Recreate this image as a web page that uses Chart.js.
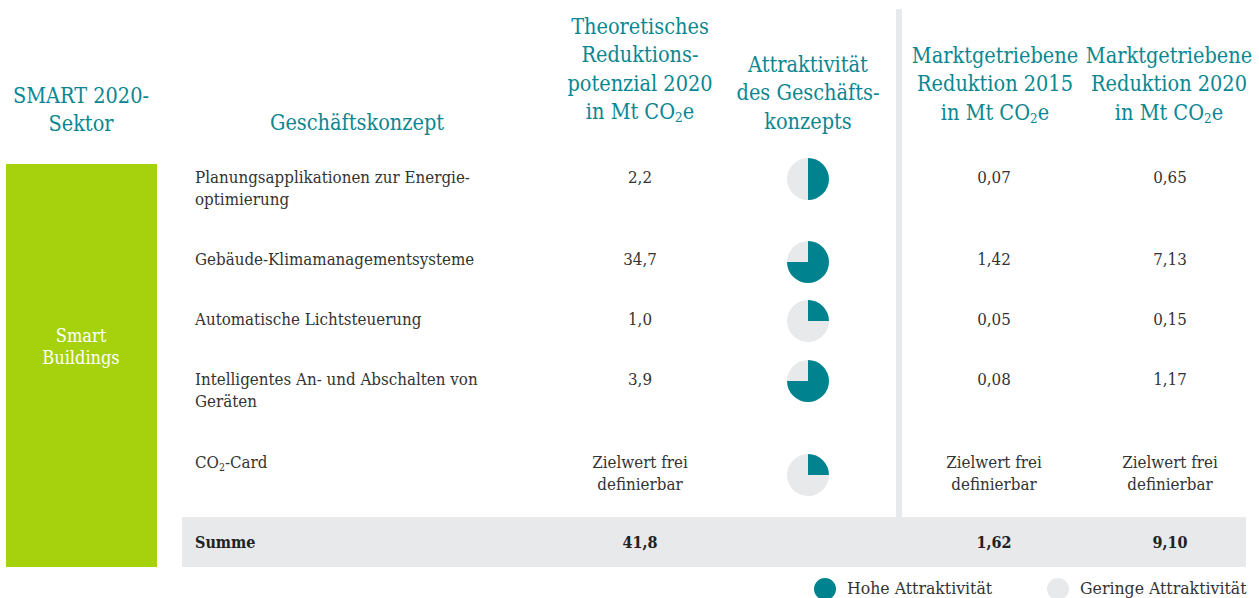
<!DOCTYPE html>
<html>
<head>
<meta charset="utf-8">
<script src="https://cdn.jsdelivr.net/npm/chart.js@4.4.1/dist/chart.umd.min.js"></script>
<style>
  html,body{margin:0;padding:0;background:#fff;}
  #stage{position:relative;width:1259px;height:598px;overflow:hidden;font-family:"DejaVu Serif Condensed","DejaVu Serif",serif;}
  .t{position:absolute;white-space:nowrap;}
  .hd{color:#0a8792;font-size:21.5px;line-height:28.5px;text-align:center;transform:translateX(-50%);}
  .bd{color:#333;font-size:16.8px;line-height:22px;}
  .c{text-align:center;transform:translateX(-50%);}
  sub{font-size:0.62em;vertical-align:-0.25em;line-height:0;}
  .pie{position:absolute;width:42px;height:42px;}
</style>
</head>
<body>
<div id="stage"></div>
<script>
// ---- data ----
const sector = "Smart Buildings";
const headers = {
  sector: "SMART 2020-<br>Sektor",
  concept: "Geschäftskonzept",
  potential: "Theoretisches<br>Reduktions-<br>potenzial 2020<br>in Mt CO<sub>2</sub>e",
  attract: "Attraktivität<br>des Geschäfts-<br>konzepts",
  m2015: "Marktgetriebene<br>Reduktion 2015<br>in Mt CO<sub>2</sub>e",
  m2020: "Marktgetriebene<br>Reduktion 2020<br>in Mt CO<sub>2</sub>e"
};
const concepts = [
  "Planungsapplikationen zur Energie-<br>optimierung",
  "Gebäude-Klimamanagementsysteme",
  "Automatische Lichtsteuerung",
  "Intelligentes An- und Abschalten von<br>Geräten",
  "CO<sub>2</sub>-Card"
];
const potential2020 = [2.2, 34.7, 1.0, 3.9, null];
const attractiveness = [2, 3, 1, 3, 1];   // quarters of 4 (high attractiveness share)
const attractMax = 4;
const market2015 = [0.07, 1.42, 0.05, 0.08, null];
const market2020 = [0.65, 7.13, 0.15, 1.17, null];
const sumLabel = "Summe";
const sumPotential = 41.8, sum2015 = 1.62, sum2020 = 9.10;
const openTarget = "Zielwert frei<br>definierbar";
const legendLabels = ["Hohe Attraktivität", "Geringe Attraktivität"];
const colors = {teal:"#00838f", grey:"#e8e9eb"};

// ---- layout ----
const stage = document.getElementById('stage');
function add(html, cls, x, y, lh, style){
  const d = document.createElement('div');
  d.className = 't ' + cls;
  d.innerHTML = html;
  d.style.left = x + 'px';
  d.style.top = (y - lh/2) + 'px';
  if (style) Object.assign(d.style, style);
  stage.appendChild(d);
  return d;
}
function box(x, y, w, h, bg){
  const d = document.createElement('div');
  Object.assign(d.style,{position:'absolute',left:x+'px',top:y+'px',width:w+'px',height:h+'px',background:bg});
  stage.appendChild(d);
}
const fmt = (v, d) => v === null ? openTarget : v.toLocaleString('de-DE',{minimumFractionDigits:d,maximumFractionDigits:d});

// backgrounds
box(6, 164, 151, 403, '#a6d20d');
box(896, 9, 6, 508, colors.grey);
box(182, 517, 1064, 50, colors.grey);

// headers
const HL = 28.5;
add(headers.sector, 'hd', 81, 96, HL);
add(headers.concept, 'hd', 357, 123, HL);
add(headers.potential, 'hd', 640, 27, HL);
add(headers.attract, 'hd', 808, 65, HL);
add(headers.m2015, 'hd', 995, 56, HL);
add(headers.m2020, 'hd', 1169, 56, HL);

// sector label
add(sector.replace(' ', '<br>'), 'bd c', 81, 336, 21.5, {color:'#fff', fontSize:'18px', lineHeight:'21.5px'});

// rows
const rowY = [177, 259, 319, 379, 462];
const pieY = [179, 262, 321, 380.5, 474.5];
const BL = 22;
concepts.forEach((c, i) => {
  add(c, 'bd', 195, rowY[i], BL);
  add(fmt(potential2020[i], 1), 'bd c', 640, rowY[i], BL);
  add(fmt(market2015[i], 2), 'bd c', 994, rowY[i], BL);
  add(fmt(market2020[i], 2), 'bd c', 1170, rowY[i], BL);
});
// sum row
const sumStyle = {fontWeight:'bold', color:'#222', fontSize:'16px'};
add(sumLabel, 'bd', 195, 543, BL, sumStyle);
add(fmt(sumPotential, 1), 'bd c', 640, 543, BL, sumStyle);
add(fmt(sum2015, 2), 'bd c', 994, 543, BL, sumStyle);
add(fmt(sum2020, 2), 'bd c', 1170, 543, BL, sumStyle);

// pies
function pie(cx, cy, r, data, bg){
  const cv = document.createElement('canvas');
  cv.className = 'pie';
  cv.width = 2*r; cv.height = 2*r;
  Object.assign(cv.style,{left:(cx - r)+'px', top:(cy - r)+'px', width:2*r+'px', height:2*r+'px'});
  stage.appendChild(cv);
  new Chart(cv, {
    type:'pie',
    data:{datasets:[{data:data, backgroundColor:bg, borderWidth:0}]},
    options:{responsive:false, animation:false, events:[],
      layout:{padding:0},
      plugins:{legend:{display:false}, tooltip:{enabled:false}}}
  });
}
attractiveness.forEach((a, i) => {
  pie(808, pieY[i], 21, [a, attractMax - a], [colors.teal, colors.grey]);
});

// legend
pie(825, 589, 11, [1], [colors.teal]);
pie(1058, 589, 11, [1], [colors.grey]);
add(legendLabels[0], 'bd', 847, 588, 22, {fontSize:'17.5px'});
add(legendLabels[1], 'bd', 1080, 588, 22, {fontSize:'17.5px'});
</script>
</body>
</html>
